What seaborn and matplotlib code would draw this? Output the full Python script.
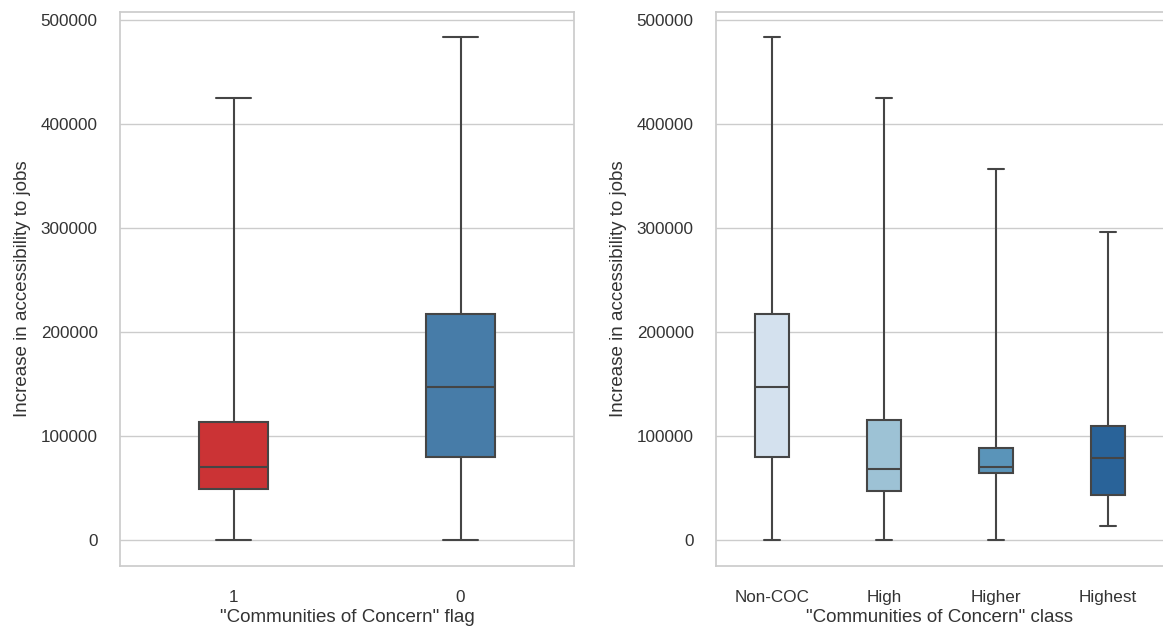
import numpy as np
import pandas as pd
import matplotlib
matplotlib.use("Agg")
import matplotlib.pyplot as plt
import seaborn as sns

# Five-number summaries (min, Q1, median, Q3, max) of job-accessibility gains
flag_labels = ["1", "0"]
flag_1 = [0, 49000, 70000, 113500, 425000]
flag_0 = [0, 80000, 147000, 217000, 484000]

class_labels = ["Non-COC", "High", "Higher", "Highest"]
class_noncoc = [0, 80000, 147000, 217000, 484000]
class_high = [0, 47000, 68500, 115500, 425000]
class_higher = [0, 64500, 70500, 88000, 357000]
class_highest = [13500, 43000, 78500, 110000, 296000]

y_label = "Increase in accessibility to jobs"

flag_df = pd.DataFrame({
    "flag": np.repeat(flag_labels, 5),
    "value": flag_1 + flag_0,
})
class_df = pd.DataFrame({
    "cls": np.repeat(class_labels, 5),
    "value": class_noncoc + class_high + class_higher + class_highest,
})

sns.set_theme(style="whitegrid")
plt.rcParams["font.family"] = ["Liberation Sans", "DejaVu Sans"]
text_col = "#333333"
plt.rcParams["text.color"] = text_col
plt.rcParams["axes.labelcolor"] = text_col
plt.rcParams["xtick.color"] = text_col
plt.rcParams["ytick.color"] = text_col

fig = plt.figure(figsize=(11.63, 6.28), dpi=100)
ax1 = fig.add_axes([120 / 1163, 1 - 566 / 628, 454 / 1163, 554 / 628])
ax2 = fig.add_axes([716 / 1163, 1 - 566 / 628, 448 / 1163, 554 / 628])

box_kw = dict(width=0.3, whis=np.inf, linewidth=1.5, linecolor="#454545",
              legend=False)

sns.boxplot(data=flag_df, x="flag", y="value", hue="flag", order=flag_labels,
            hue_order=flag_labels, palette="Set1", ax=ax1, **box_kw)
sns.boxplot(data=class_df, x="cls", y="value", hue="cls", order=class_labels,
            hue_order=class_labels, palette="Blues", ax=ax2, **box_kw)

for ax, xl in [(ax1, '"Communities of Concern" flag'),
               (ax2, '"Communities of Concern" class')]:
    ax.set_xlabel(xl, fontsize=13.5, labelpad=3)
    ax.set_ylabel(y_label, fontsize=13.5, labelpad=7)
    ax.tick_params(axis="y", labelsize=12.3, pad=10)
    ax.tick_params(axis="x", labelsize=12.3, pad=11)
    ax.set_yticks([0, 100000, 200000, 300000, 400000, 500000])
    ax.set_yticklabels(["0", "100000", "200000", "300000", "400000", "500000"])
    ax.set_ylim(-25000, 507700)
    ax.grid(axis="x", visible=False)
    for s in ax.spines.values():
        s.set_color("#cccccc")

fig.savefig("out.png", dpi=100)
